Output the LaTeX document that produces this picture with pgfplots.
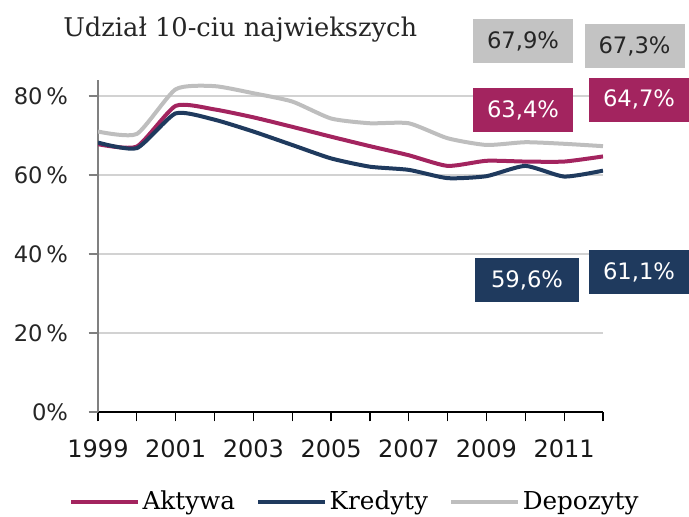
\documentclass[border=0pt]{standalone}
\usepackage{fontspec}
\setmainfont{DejaVu Serif}
\newfontfamily\tickfont{DejaVu Sans}
\usepackage{pgfplots}
\pgfplotsset{compat=1.18}
\definecolor{akt}{HTML}{A3245F}
\definecolor{kred}{HTML}{1F3A5E}
\definecolor{depo}{HTML}{BEBEBE}
\definecolor{boxgray}{HTML}{C3C3C3}
\pgfplotstableread{
year akt kred depo
1999 67.8 68.2 71.0
2000 67.2 66.8 70.4
2001 77.5 75.6 81.7
2002 76.6 74.0 82.5
2003 74.6 71.0 80.7
2004 72.2 67.6 78.6
2005 69.7 64.2 74.3
2006 67.3 62.1 73.1
2007 65.0 61.3 73.1
2008 62.3 59.2 69.3
2009 63.6 59.7 67.6
2010 63.4 62.3 68.3
2011 63.4 59.6 67.9
2012 64.7 61.1 67.3
}\datatable
\begin{document}
\begin{tikzpicture}
\begin{axis}[
 at={(73.5pt,78.75pt)}, anchor=south west,
 scale only axis, width=378.75pt, height=248.85pt,
 xmin=1999, xmax=2012, ymin=0, ymax=84,
 axis x line*=bottom, axis y line*=left,
 x axis line style={black, line width=0.9pt},
 y axis line style={gray, line width=0.9pt},
 xtick={1999,2000,...,2012},
 xticklabels={1999,,2001,,2003,,2005,,2007,,2009,,2011,},
 ytick={0,20,40,60,80},
 yticklabels={0\%,20\,\%,40\,\%,60\,\%,80\,\%},
 ymajorgrids, grid style={gray!35, line width=0.8pt},
 tick align=outside, major tick length=7pt,
 xtick style={black, line width=0.9pt},
 ytick style={gray, line width=0.9pt},
 yticklabel style={font=\tickfont\fontsize{17}{19}\selectfont, text=black!85, xshift=-12pt},
 xticklabel style={font=\tickfont\fontsize{18}{20}\selectfont, text=black!90, yshift=-10pt},
 legend style={draw=none, fill=none, at={(-0.0574,-0.27)}, anchor=west,
   legend columns=3, font=\fontsize{18.5}{20}\selectfont,
   /tikz/every even column/.append style={column sep=14pt},
   inner sep=0pt},
 legend image code/.code={\draw[#1, line width=3pt] (0pt,0pt) -- (50pt,0pt);},
]
\addplot[akt, line width=3pt, smooth, tension=0.35] table[x=year,y=akt] {\datatable};
\addlegendentry{Aktywa}
\addplot[kred, line width=3pt, smooth, tension=0.35] table[x=year,y=kred] {\datatable};
\addlegendentry{Kredyty}
\addplot[depo, line width=3pt, smooth, tension=0.35] table[x=year,y=depo] {\datatable};
\addlegendentry{Depozyty}
\end{axis}
\node[anchor=base west, inner sep=0pt, font=\fontsize{19.3}{22}\selectfont, text=black!85] at (47.25pt,360pt) {Udział 10-ciu najwiekszych};
\tikzset{lbl/.style={minimum width=75pt, minimum height=33pt, inner sep=0pt, font=\tickfont\fontsize{17}{19}\selectfont}}
\node[lbl, fill=boxgray, text=black!85] at (392.25pt,357pt) {67,9\%};
\node[lbl, fill=boxgray, text=black!85] at (475.9pt,353.25pt) {67,3\%};
\node[lbl, fill=akt, text=white] at (392.25pt,305.25pt) {63,4\%};
\node[lbl, fill=akt, text=white] at (479.25pt,313.1pt) {64,7\%};
\node[lbl, fill=kred, text=white, minimum width=78pt] at (395.25pt,177.75pt) {59,6\%};
\node[lbl, fill=kred, text=white] at (479.25pt,183.4pt) {61,1\%};
\pgfresetboundingbox
\path[use as bounding box] (0,0) rectangle (516.75pt,387.75pt);
\end{tikzpicture}
\end{document}
